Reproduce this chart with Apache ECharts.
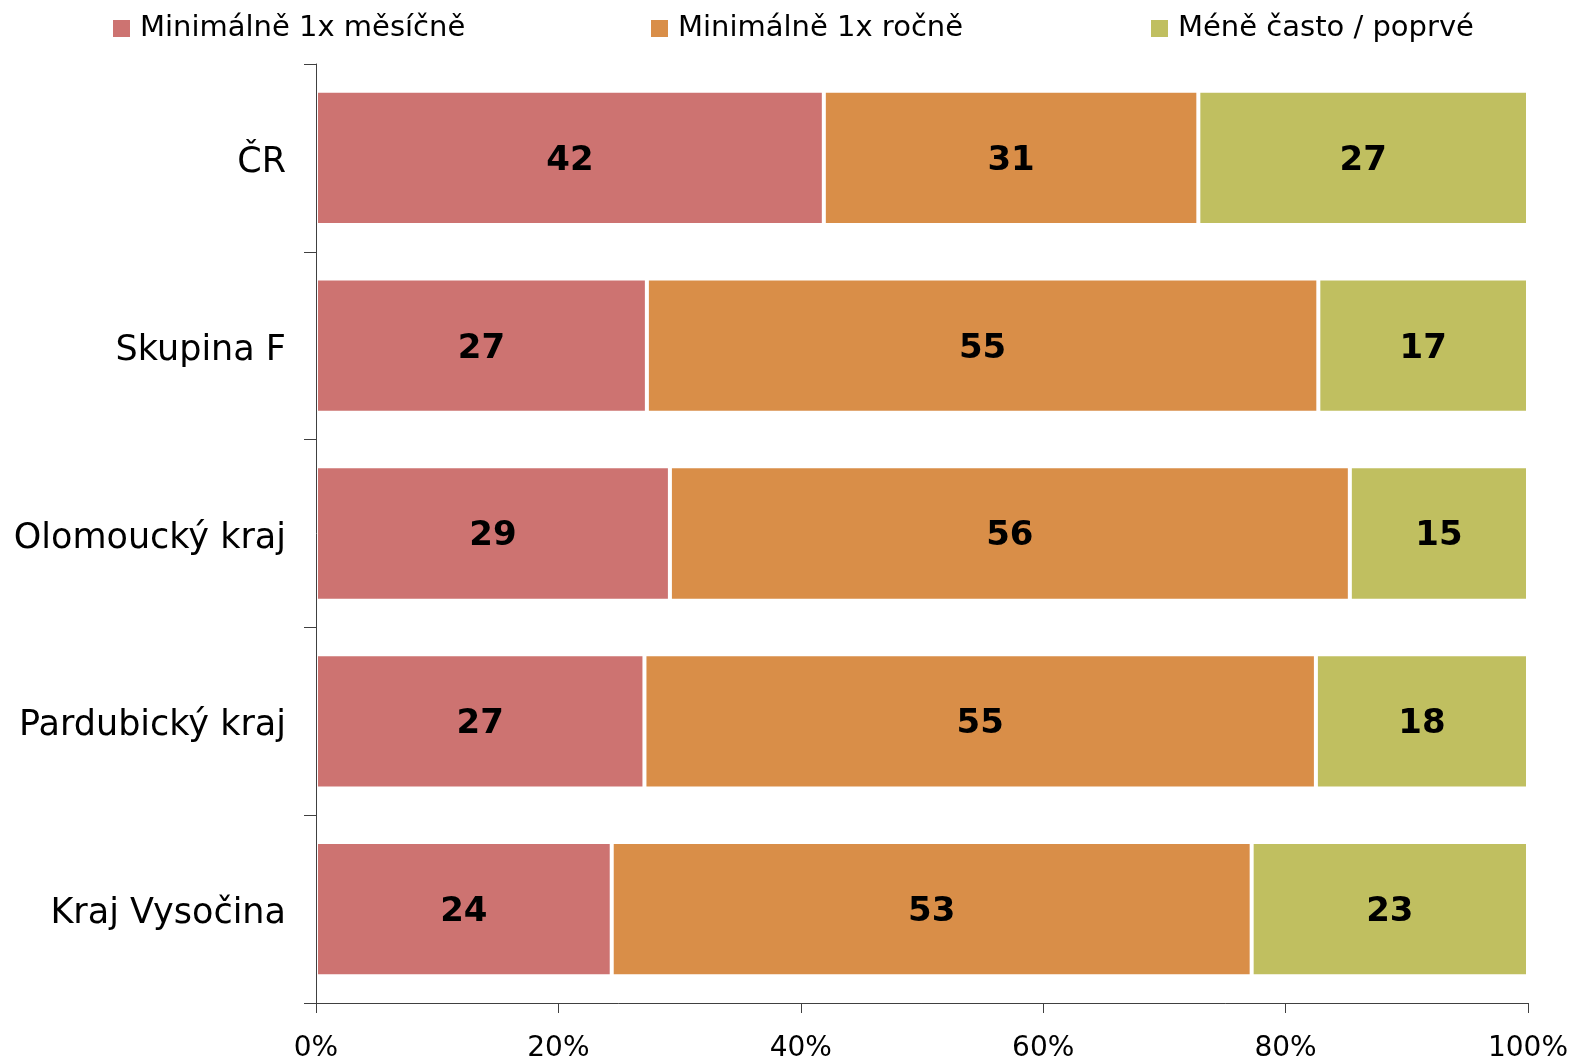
<!DOCTYPE html>
<html>
<head>
<meta charset="utf-8">
<script src="https://cdn.jsdelivr.net/npm/echarts@6/dist/echarts.min.js"></script>
<style>
  html, body { margin: 0; padding: 0; background: #fff; }
  #chart { width: 1570px; height: 1058px; }
</style>
</head>
<body>
<div id="chart"></div>
<script>
// Regions shown as rows, top to bottom
const categories = ['ČR', 'Skupina F', 'Olomoucký kraj', 'Pardubický kraj', 'Kraj Vysočina'];

// Share of respondents (%) per frequency group
const monthly = [41.9, 27.3, 29.2, 27.1, 24.4];
const yearly  = [30.9, 55.4, 56.1, 55.4, 52.8];
const rarely  = [27.2, 17.3, 14.7, 17.5, 22.8];

const seriesNames = ['Minimálně 1x měsíčně', 'Minimálně 1x ročně', 'Méně často / poprvé'];
const colors = ['#CD7371', '#D98E48', '#C0BF60'];

const xTicks = [0, 20, 40, 60, 80, 100];

const FONT = '"DejaVu Sans", Verdana, sans-serif';

const chart = echarts.init(document.getElementById('chart'), null, { renderer: 'canvas' });

function makeSeries(name, data, color) {
  return {
    name: name,
    type: 'bar',
    stack: 'total',
    data: data,
    barCategoryGap: '28.5%',
    itemStyle: { color: color, borderColor: '#ffffff', borderWidth: 2 },
    label: {
      show: true,
      position: 'inside',
      offset: [0, 3],
      color: '#000',
      fontFamily: FONT,
      fontWeight: 'bold',
      fontSize: 34,
      formatter: p => String(Math.round(p.value))
    },
    emphasis: { disabled: true }
  };
}

function makeLegend(name, left) {
  return {
    data: [name],
    left: left,
    top: 9,
    icon: 'rect',
    itemWidth: 17,
    itemHeight: 17,
    itemStyle: { borderWidth: 0 },
    textStyle: { fontFamily: FONT, fontSize: 29, color: '#000', padding: [0, 0, 0, 5] },
    selectedMode: false
  };
}

chart.setOption({
  animation: false,
  backgroundColor: '#fff',
  color: colors,
  legend: [
    makeLegend(seriesNames[0], 108),
    makeLegend(seriesNames[1], 646),
    makeLegend(seriesNames[2], 1146)
  ],
  grid: { left: 316, right: 42, top: 64, bottom: 55, containLabel: false, outerBoundsMode: 'none' },
  xAxis: {
    type: 'value',
    min: xTicks[0],
    max: xTicks[xTicks.length - 1],
    interval: xTicks[1] - xTicks[0],
    axisLine: { show: true, lineStyle: { color: '#404040', width: 1 } },
    axisTick: { show: true, length: 10, inside: false, lineStyle: { color: '#404040' } },
    splitLine: { show: false },
    axisLabel: {
      formatter: '{value}%',
      margin: 32,
      color: '#000',
      fontFamily: FONT,
      fontSize: 28
    }
  },
  yAxis: {
    type: 'category',
    data: categories,
    inverse: true,
    z: 10,
    axisLine: { show: true, lineStyle: { color: '#404040', width: 1 } },
    axisTick: { show: true, length: 12, alignWithLabel: false, lineStyle: { color: '#404040' } },
    axisLabel: {
      margin: 30,
      formatter: v => '{c|' + v + '}',
      rich: {
        c: {
          color: '#000',
          fontFamily: FONT,
          fontSize: 35,
          padding: [10, 0, 0, 0]
        }
      }
    }
  },
  series: [
    makeSeries(seriesNames[0], monthly, colors[0]),
    makeSeries(seriesNames[1], yearly, colors[1]),
    makeSeries(seriesNames[2], rarely, colors[2])
  ]
});
</script>
</body>
</html>
